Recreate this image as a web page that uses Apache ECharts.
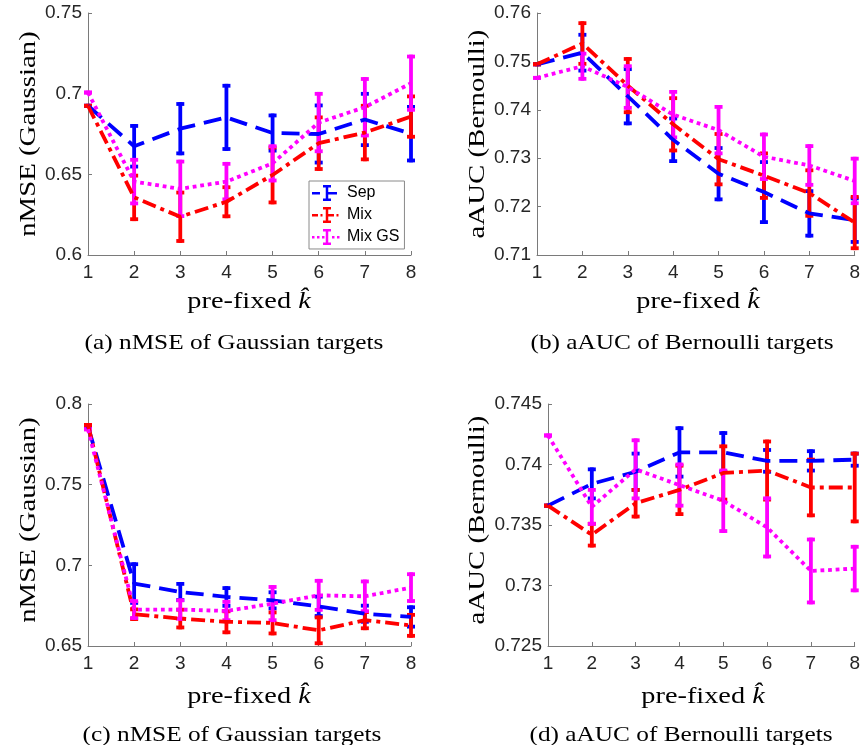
<!DOCTYPE html>
<html>
<head>
<meta charset="utf-8">
<script src="https://cdn.jsdelivr.net/npm/echarts@6/dist/echarts.min.js"></script>
<style>
  html, body { margin: 0; padding: 0; background: #fff; }
  #chart { width: 863px; height: 745px; }
</style>
</head>
<body>
<div id="chart"></div>
<script>
// pre-fixed k values (x axis of every panel)
const kValues = [1, 2, 3, 4, 5, 6, 7, 8];

// (a) nMSE of Gaussian targets
const aSep    = [0.6925, 0.6674, 0.6783, 0.6853, 0.6756, 0.6750, 0.6840, 0.6752];
const aSepErr = [0, 0.0126, 0.0153, 0.0196, 0.0109, 0.0177, 0.0159, 0.0166];
const aMix    = [0.6925, 0.6357, 0.6237, 0.6330, 0.6496, 0.6693, 0.6759, 0.6858];
const aMixErr = [0, 0.0135, 0.0150, 0.0090, 0.0170, 0.0160, 0.0166, 0.0125];
const aGs     = [0.7007, 0.6455, 0.6410, 0.6455, 0.6568, 0.6821, 0.6916, 0.7065];
const aGsErr  = [0, 0.0135, 0.0169, 0.0110, 0.0106, 0.0178, 0.0175, 0.0165];

// (b) aAUC of Bernoulli targets
const bSep    = [0.7494, 0.7518, 0.7428, 0.7338, 0.7268, 0.7230, 0.7186, 0.7172];
const bSepErr = [0, 0.0037, 0.0056, 0.0044, 0.0053, 0.0062, 0.0046, 0.0045];
const bMix    = [0.7494, 0.7537, 0.7450, 0.7370, 0.7298, 0.7264, 0.7228, 0.7167];
const bMixErr = [0, 0.0042, 0.0055, 0.0054, 0.0052, 0.0046, 0.0047, 0.0053];
const bGs     = [0.7466, 0.7490, 0.7447, 0.7390, 0.7358, 0.7303, 0.7285, 0.7253];
const bGsErr  = [0, 0.0026, 0.0043, 0.0047, 0.0048, 0.0046, 0.0040, 0.0046];

// (c) nMSE of Gaussian targets
const cSep    = [0.7860, 0.6887, 0.6835, 0.6804, 0.6783, 0.6746, 0.6700, 0.6680];
const cSepErr = [0, 0.0120, 0.0050, 0.0055, 0.0050, 0.0060, 0.0050, 0.0060];
const cMix    = [0.7870, 0.6697, 0.6670, 0.6650, 0.6643, 0.6597, 0.6660, 0.6628];
const cMixErr = [0, 0.0030, 0.0055, 0.0065, 0.0065, 0.0080, 0.0050, 0.0065];
const cGs     = [0.7843, 0.6726, 0.6726, 0.6717, 0.6763, 0.6814, 0.6808, 0.6862];
const cGsErr  = [0, 0.0052, 0.0057, 0.0057, 0.0103, 0.0090, 0.0092, 0.0083];

// (d) aAUC of Bernoulli targets
const dSep    = [0.7366, 0.7384, 0.7394, 0.7410, 0.7410, 0.7403, 0.7403, 0.7404];
const dSepErr = [0, 0.0012, 0.0015, 0.0020, 0.0016, 0.0009, 0.0008, 0.0005];
const dMix    = [0.7366, 0.7342, 0.7368, 0.7379, 0.7393, 0.7395, 0.7381, 0.7381];
const dMixErr = [0, 0.0009, 0.0011, 0.0020, 0.0022, 0.0024, 0.0023, 0.0028];
const dGs     = [0.7424, 0.7365, 0.7396, 0.7383, 0.7370, 0.7348, 0.7312, 0.7314];
const dGsErr  = [0, 0.0014, 0.0024, 0.0017, 0.0025, 0.0024, 0.0026, 0.0018];

// y-axis ranges and tick steps per panel
const yMin  = [0.60, 0.71, 0.65, 0.725];
const yMax  = [0.75, 0.76, 0.80, 0.745];
const yStep = [0.05, 0.01, 0.05, 0.005];

const methodNames = ['Sep', 'Mix', 'Mix GS'];
const yLabels  = ['nMSE (Gaussian)', 'aAUC (Bernoulli)', 'nMSE (Gaussian)', 'aAUC (Bernoulli)'];
const captions = ['(a) nMSE of Gaussian targets', '(b) aAUC of Bernoulli targets',
                  '(c) nMSE of Gaussian targets', '(d) aAUC of Bernoulli targets'];

const panels = [
  [[aSep, aSepErr], [aMix, aMixErr], [aGs, aGsErr]],
  [[bSep, bSepErr], [bMix, bMixErr], [bGs, bGsErr]],
  [[cSep, cSepErr], [cMix, cMixErr], [cGs, cGsErr]],
  [[dSep, dSepErr], [dMix, dMixErr], [dGs, dGsErr]]
];

// plot-area boxes in pixels
const boxes = [
  { left: 88,  top: 13,  width: 323, height: 242 },
  { left: 537, top: 13,  width: 323, height: 242 },
  { left: 88,  top: 404, width: 323, height: 242 },
  { left: 548, top: 404, width: 312, height: 242 }
];

const colors = ['#0000ff', '#ff0000', '#ff00ff'];
const dashes = [[18, 9], [14, 5, 4, 5], [3.8, 3.8]];
const LW = 3.8;
const CAP = 4;

const axisGray = '#7a7a7a';
const tickText = '#262626';
const sansFont = 'Liberation Sans';
const serifFont = 'Liberation Serif';

function errRender(params, api) {
  const x = api.value(0), y = api.value(1), e = api.value(2);
  const top = api.coord([x, y + e]);
  const bot = api.coord([x, y - e]);
  const style = { stroke: api.visual('color'), lineWidth: LW, lineCap: 'butt' };
  return {
    type: 'group',
    children: [
      { type: 'line', shape: { x1: top[0], y1: top[1] - LW / 2, x2: bot[0], y2: bot[1] + LW / 2 }, style },
      { type: 'line', shape: { x1: top[0] - CAP, y1: top[1], x2: top[0] + CAP, y2: top[1] }, style },
      { type: 'line', shape: { x1: bot[0] - CAP, y1: bot[1], x2: bot[0] + CAP, y2: bot[1] }, style }
    ]
  };
}

const fmt = v => String(parseFloat(v.toFixed(4)));

const grid = [], xAxis = [], yAxis = [], series = [];
panels.forEach((panel, p) => {
  grid.push(Object.assign({ containLabel: false }, boxes[p]));
  xAxis.push({
    type: 'value', gridIndex: p, min: 1, max: 8, interval: 1,
    axisLine: { show: true, lineStyle: { color: axisGray, width: 1 } },
    axisTick: { show: true, inside: true, length: 4, lineStyle: { color: axisGray } },
    axisLabel: { color: tickText, fontSize: 19, fontFamily: sansFont, margin: 8 },
    splitLine: { show: false }
  });
  yAxis.push({
    type: 'value', gridIndex: p, min: yMin[p], max: yMax[p], interval: yStep[p],
    axisLine: { show: true, lineStyle: { color: axisGray, width: 1 } },
    axisTick: { show: true, inside: true, length: 4, lineStyle: { color: axisGray } },
    axisLabel: { color: tickText, fontSize: 19, fontFamily: sansFont, margin: 6, formatter: fmt },
    splitLine: { show: false }
  });
  panel.forEach(([vals, errs], m) => {
    series.push({
      name: methodNames[m], type: 'line', xAxisIndex: p, yAxisIndex: p,
      data: kValues.map((k, i) => [k, vals[i]]),
      symbol: 'none', color: colors[m], itemStyle: { color: colors[m] },
      lineStyle: { color: colors[m], width: LW, type: dashes[m], cap: 'butt' },
      animation: false, silent: true
    });
    series.push({
      name: methodNames[m] + ' bars', type: 'custom', xAxisIndex: p, yAxisIndex: p,
      data: kValues.map((k, i) => [k, vals[i], errs[i]]),
      renderItem: errRender, itemStyle: { color: colors[m] },
      clip: false, animation: false, silent: true
    });
  });
});

// legend glyphs: line style with an error bar
const anchors = 'M0,0H0.01V0.01H0Z M30,17.99H30.01V18H30Z ';
const iconSep = 'path://' + anchors +
  'M0,8H8V10.5H0Z M11,1H19V3.5H11Z M13.75,1H16.25V17H13.75Z M11,14.5H19V17H11Z M16,8H25V10.5H16Z';
const iconMix = 'path://' + anchors +
  'M0,8H6V10.5H0Z M8.5,8H10.5V10.5H8.5Z M11,1H19V3.5H11Z M13.75,1H16.25V17H13.75Z M11,14.5H19V17H11Z M16,8H22V10.5H16Z M24.5,8H26.5V10.5H24.5Z';
const iconGs = 'path://' + anchors +
  'M0,8H2.5V10.5H0Z M5,8H7.5V10.5H5Z M10,8H12.5V10.5H10Z M11,1H19V3.5H11Z M13.75,1H16.25V17H13.75Z M11,14.5H19V17H11Z M20,8H22.5V10.5H20Z M25,8H27.5V10.5H25Z';

const centers = [
  { yl: [29, 134],  xl: [249, 302], cap: [234, 343] },
  { yl: [478, 134], xl: [698, 302], cap: [682, 343] },
  { yl: [29, 520],  xl: [249, 697], cap: [232, 735] },
  { yl: [478, 520], xl: [703, 697], cap: [681, 735] }
];

const graphic = [];
centers.forEach((c, p) => {
  graphic.push({
    type: 'text', x: c.yl[0], y: c.yl[1], rotation: Math.PI / 2, scaleX: 1.2, silent: true,
    style: { text: yLabels[p], fontSize: 24, fontFamily: serifFont, fill: '#000',
             align: 'center', verticalAlign: 'middle', textAlign: 'center', textVerticalAlign: 'middle' }
  });
  graphic.push({
    type: 'text', x: c.xl[0], y: c.xl[1], scaleX: 1.18, silent: true,
    style: { text: '{n|pre-fixed }{k|k\u0302}', fill: '#000',
             fontSize: 24, fontFamily: serifFont,
             rich: { n: { fontSize: 24, fontFamily: serifFont, fill: '#000' },
                     k: { fontSize: 24, fontFamily: serifFont, fontStyle: 'italic', fill: '#000' } },
             align: 'center', verticalAlign: 'middle', textAlign: 'center', textVerticalAlign: 'middle' }
  });
  graphic.push({
    type: 'text', x: c.cap[0], y: c.cap[1], scaleX: 1.15, silent: true,
    style: { text: captions[p], fontSize: 22, fontFamily: serifFont, fill: '#000',
             align: 'center', verticalAlign: 'middle', textAlign: 'center', textVerticalAlign: 'middle' }
  });
});

const chart = echarts.init(document.getElementById('chart'), null, { renderer: 'canvas' });
chart.setOption({
  backgroundColor: '#fff',
  animation: false,
  grid, xAxis, yAxis, series, graphic,
  legend: {
    left: 309, top: 181, orient: 'vertical', selectedMode: false,
    backgroundColor: '#fff', borderColor: '#8a8a8a', borderWidth: 1,
    padding: [3, 5, 3, 3], itemGap: 4, itemWidth: 30, itemHeight: 18,
    itemStyle: { borderWidth: 0 },
    textStyle: { fontSize: 16, fontFamily: sansFont, color: '#000' },
    data: [
      { name: 'Sep', icon: iconSep },
      { name: 'Mix', icon: iconMix },
      { name: 'Mix GS', icon: iconGs }
    ]
  }
});
</script>
</body>
</html>
